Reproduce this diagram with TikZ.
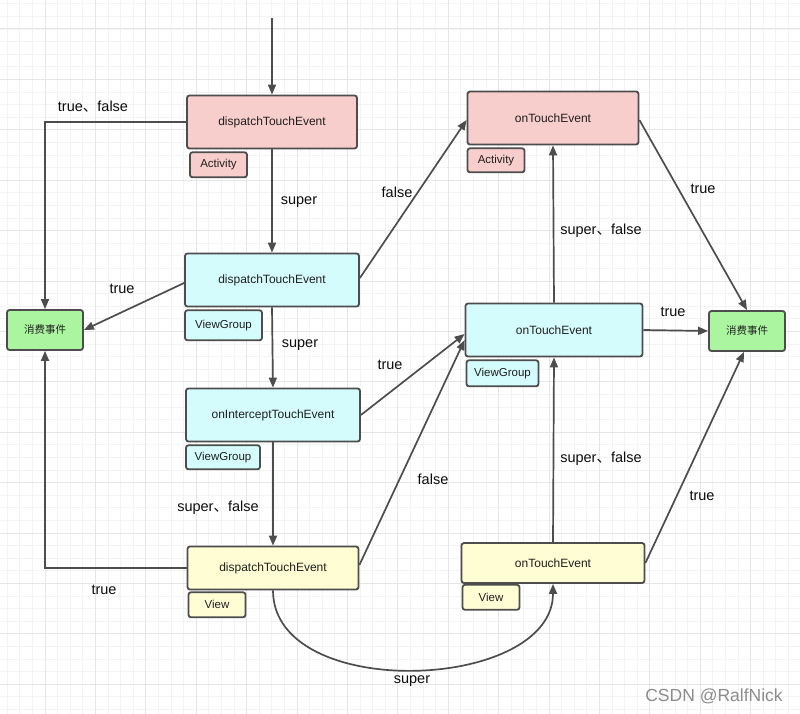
\documentclass[tikz,border=0pt]{standalone}
\usepackage{fontspec}
\setmainfont{Liberation Sans}
\newfontfamily\cjk{Noto Sans CJK SC}
\usetikzlibrary{positioning}
\usetikzlibrary{arrows.meta}

\definecolor{edgegray}{HTML}{4D4D4D}
\definecolor{actpink}{HTML}{F8CECC}
\definecolor{grpcyan}{HTML}{D5FCFC}
\definecolor{viewyellow}{HTML}{FFFDD3}
\definecolor{eatgreen}{HTML}{ABF5A1}
\definecolor{gridminor}{HTML}{F3F3F3}
\definecolor{gridmajor}{HTML}{E6E6E6}

\begin{document}
\begin{tikzpicture}[x=1pt, y=-1pt,
        box/.style={rectangle, rounded corners=2.5pt, draw=edgegray, line width=1.8pt, inner sep=0pt, text=black!88, font=\fontsize{12}{14}\selectfont},
        act/.style={box, fill=actpink},
        grp/.style={box, fill=grpcyan},
        view/.style={box, fill=viewyellow},
        eat/.style={box, fill=eatgreen, minimum width=76pt, minimum height=40pt, font=\cjk\fontsize{10.5}{12}\selectfont},
        tag/.style={minimum width=57pt, minimum height=25pt, anchor=north west, font=\fontsize{11.5}{13}\selectfont},
        arr/.style={draw=edgegray, line width=1.7pt, -{Triangle[length=10pt,width=8pt]}},
        lbl/.style={font=\fontsize{14.5}{16}\selectfont, text=black!95}
      ]
        \fill[white] (0,0) rectangle (800,714);
        \useasboundingbox (0,0) rectangle (800,714);

        % grid
        \foreach \i in {0,...,63} \draw[gridminor, line width=0.9pt] ({7.2+12.6*\i},0) -- ++(0,714);
        \foreach \i in {0,...,56} \draw[gridminor, line width=0.9pt] (0,{3.8+12.6*\i}) -- ++(800,0);
        \foreach \i in {0,...,15} \draw[gridmajor, line width=1pt] ({45+50.4*\i},0) -- ++(0,714);
        \foreach \i in {0,...,13} \draw[gridmajor, line width=1pt] (0,{29+50.4*\i}) -- ++(800,0);

        % dispatch side
        \coordinate (start) at (272,18);
        \node[act, minimum width=170pt, minimum height=53pt]  (actdisp)   at (272,122)  {dispatchTouchEvent};
        \node[act, tag]  (actdisptag)  at ([xshift=3pt, yshift=-2pt]actdisp.south west)  {Activity};
        \node[grp, minimum width=174pt, minimum height=53pt]  (grpdisp)   at (272,280)  {dispatchTouchEvent};
        \node[grp, tag, minimum width=77pt, minimum height=30pt]  (grpdisptag)  at ([yshift=-2pt]grpdisp.south west)  {ViewGroup};
        \node[grp, minimum width=174pt, minimum height=53pt]  (grpint)    at (273,415)  {onInterceptTouchEvent};
        \node[grp, tag, minimum width=74pt, minimum height=24pt]  (grpinttag)  at ([yshift=-2pt]grpint.south west)  {ViewGroup};
        \node[view, minimum width=171pt, minimum height=43pt]  (viewdisp)  at (273,568)  {dispatchTouchEvent};
        \node[view, tag]  (viewdisptag)  at ([xshift=1pt, yshift=-1pt]viewdisp.south west)  {View};

        % touch side
        \node[act, minimum width=171pt, minimum height=53pt]  (acttouch)  at (553,118)  {onTouchEvent};
        \node[act, tag, minimum height=24pt]  (acttouchtag)  at ([yshift=-2pt]acttouch.south west)  {Activity};
        \node[grp, minimum width=177pt, minimum height=53pt]  (grptouch)  at (554,330)  {onTouchEvent};
        \node[grp, tag, minimum width=72pt, minimum height=26pt]  (grptouchtag)  at ([xshift=1pt, yshift=-2pt]grptouch.south west)  {ViewGroup};
        \node[view, minimum width=183pt, minimum height=40pt]  (viewtouch)  at (553,563)  {onTouchEvent};
        \node[view, tag]  (viewtouchtag)  at ([xshift=1pt]viewtouch.south west)  {View};

        \node[eat]  (eatleft)   at (45,330)  {消费事件};
        \node[eat]  (eatright)  at (747,331)  {消费事件};

        % connectors
        \draw[arr]  (start) -- (actdisp.north);
        \draw[arr]  (actdisp.west) -| (eatleft.north);
        \draw[arr]  (actdisp.south) -- (grpdisp.north);
        \draw[arr]  ([yshift=-3pt]grpdisp.west) -- (eatleft.east);
        \draw[arr]  ([yshift=2pt]grpdisp.east) -- ([yshift=-2pt]acttouch.west);
        \draw[arr]  (grpdisp.south) -- (grpint.north);
        \draw[arr]  (grpint.east) -- ([yshift=-4pt]grptouch.west);
        \draw[arr]  (grpint.south) -- (viewdisp.north);
        \draw[arr]  (viewdisp.west) -| (eatleft.south);
        \draw[arr]  ([yshift=3pt]viewdisp.east) -- ([yshift=-10pt]grptouch.west);
        \draw[arr]  (viewdisp.south) .. controls +(0,112) and +(0,108) .. (viewtouch.south);
        \draw[arr]  (grptouch.north) -- (acttouch.south);
        \draw[arr]  (grptouch.east) -- (eatright.west);
        \draw[arr]  ([yshift=-2pt]acttouch.east) -- (eatright.north);
        \draw[arr]  (viewtouch.north) -- (grptouch.south);
        \draw[arr]  (viewtouch.east) -- ([xshift=-3pt]eatright.south);

        % labels
        \node[lbl] at (93,107)  {true{\cjk 、}false};
        \node[lbl] at (299,202) {super};
        \node[lbl] at (122,289) {true};
        \node[lbl] at (300,345) {super};
        \node[lbl] at (397,192) {false};
        \node[lbl] at (390,365) {true};
        \node[lbl] at (218,508) {super{\cjk 、}false};
        \node[lbl] at (104,590) {true};
        \node[lbl] at (433,479) {false};
        \node[lbl] at (412,681) {super};
        \node[lbl] at (601,231) {super{\cjk 、}false};
        \node[lbl] at (673,312) {true};
        \node[lbl] at (703,189) {true};
        \node[lbl] at (601,459) {super{\cjk 、}false};
        \node[lbl] at (702,496) {true};

        \node[font=\fontsize{17.5}{19}\selectfont, text=black!45] (mark) at (714,696) {CSDN @RalfNick};
      \end{tikzpicture}
\end{document}
